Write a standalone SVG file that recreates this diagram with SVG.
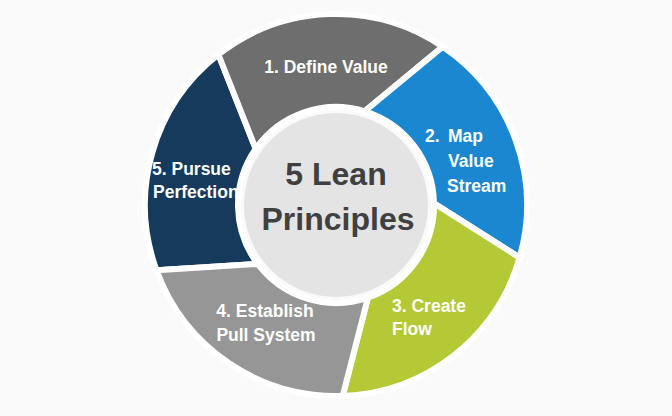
<svg xmlns="http://www.w3.org/2000/svg" width="672" height="416" viewBox="0 0 672 416">
  <style>
    .seg { stroke: #ffffff; stroke-width: 6; stroke-linejoin: round; }
    .lbl { font-family: "Liberation Sans", Arial, sans-serif; font-weight: bold; font-size: 17.5px; fill: #ffffff; }
    .ctr { font-family: "Liberation Sans", Arial, sans-serif; font-weight: bold; font-size: 32px; fill: #404040; text-anchor: middle; }
  </style>
  <rect width="672" height="416" fill="#fafafa"/>

  <g id="step5">
    <path class="seg" fill="#163a5c" d="M156.52,270.33 A191,191 0 0 1 218.40,54.49 L255.72,148.79 A98,98 0 0 0 257.73,263.98 Z"/>
    <text class="lbl" x="152" y="175">5. Pursue</text>
    <text class="lbl" x="153" y="198">Perfection</text>
  </g>

  <g id="step1">
    <path class="seg" fill="#6e6e6e" d="M218.40,54.49 A191,191 0 0 1 442.81,46.65 L364.65,111.28 A98,98 0 0 0 255.72,148.79 Z"/>
    <text class="lbl" x="326" y="73" text-anchor="middle">1. Define Value</text>
  </g>

  <g id="step2">
    <path class="seg" fill="#1b87d0" d="M442.81,46.65 A191,191 0 0 1 519.60,257.65 L433.99,203.29 A98,98 0 0 0 364.65,111.28 Z"/>
    <text class="lbl" x="425" y="142">2.</text>
    <text class="lbl" x="448" y="142">Map</text>
    <text class="lbl" x="448" y="167">Value</text>
    <text class="lbl" x="447" y="192">Stream</text>
  </g>

  <g id="step3">
    <path class="seg" fill="#b5c936" d="M519.60,257.65 A191,191 0 0 1 342.67,395.88 L367.91,297.66 A98,98 0 0 0 433.99,203.29 Z"/>
    <text class="lbl" x="392" y="312">3. Create</text>
    <text class="lbl" x="392" y="335">Flow</text>
  </g>

  <g id="step4">
    <path class="seg" fill="#969696" d="M342.67,395.88 A191,191 0 0 1 156.52,270.33 L257.73,263.98 A98,98 0 0 0 367.91,297.66 Z"/>
    <text class="lbl" x="265" y="317" text-anchor="middle">4. Establish</text>
    <text class="lbl" x="266" y="341" text-anchor="middle">Pull System</text>
  </g>

  <g id="center">
    <circle cx="336" cy="205" r="92" fill="#e4e4e4"/>
    <text class="ctr" x="336" y="185">5 Lean</text>
    <text class="ctr" x="338" y="230">Principles</text>
  </g>
</svg>
